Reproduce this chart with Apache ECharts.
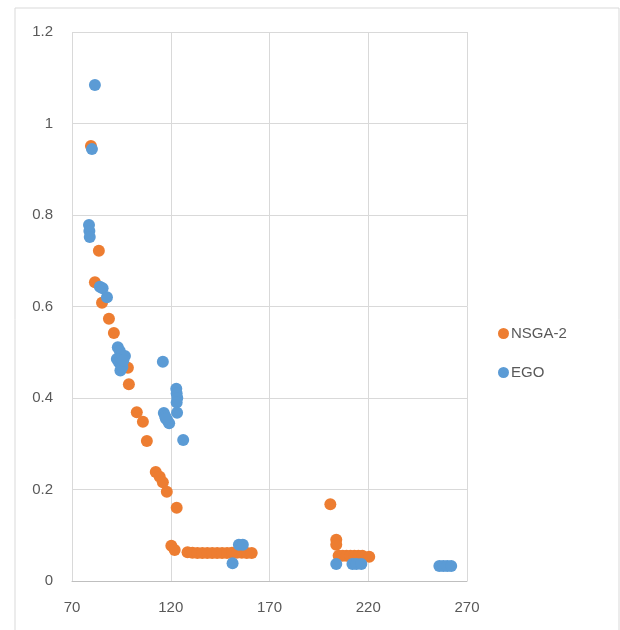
<!DOCTYPE html>
<html><head><meta charset="utf-8">
<script src="https://cdn.jsdelivr.net/npm/echarts@6/dist/echarts.min.js"></script>
<style>html,body{margin:0;padding:0;background:#fff}#c{width:620px;height:630px}</style>
</head><body><div id="c"></div>
<script>
const seriesNames = ['NSGA-2', 'EGO'];
const xTicks = [70, 120, 170, 220, 270];
const yTicks = [0, 0.2, 0.4, 0.6, 0.8, 1, 1.2];
const nsga2 = [
  [79.6,0.951],[83.6,0.722],[81.6,0.653],[85.2,0.608],[88.7,0.573],[91.2,0.542],
  [98.3,0.466],[98.8,0.43],[102.8,0.369],[105.9,0.348],[107.9,0.306],[112.4,0.238],
  [114.4,0.228],[116,0.216],[118,0.195],[123,0.16],[120.3,0.077],[122,0.068],
  [128.5,0.063],[131,0.062],[133.5,0.061],[136,0.061],[138.5,0.061],[141,0.061],
  [143.5,0.061],[146,0.061],[148.5,0.061],[151,0.062],[153.5,0.062],[156,0.062],
  [158.5,0.061],[161,0.061],
  [200.8,0.168],[203.8,0.09],[203.8,0.079],[205,0.055],[207,0.055],[209,0.055],
  [211,0.055],[213,0.055],[215,0.055],[217,0.055],[220.5,0.053]
];
const ego = [
  [81.6,1.084],[80.1,0.944],[78.6,0.778],[78.8,0.765],[79.0,0.752],[84.1,0.643],
  [85.5,0.64],[87.7,0.62],
  [93.2,0.511],[94.2,0.503],[96.8,0.492],[92.7,0.485],[93.8,0.478],[95.0,0.47],
  [94.5,0.46],[95.5,0.468],[96.0,0.482],
  [116.0,0.479],[116.5,0.367],[117.2,0.36],[118.2,0.352],[119.2,0.345],[117.5,0.355],
  [122.8,0.42],[123.0,0.41],[123.3,0.4],[123.0,0.39],[123.2,0.368],[126.3,0.308],
  [151.3,0.039],[154.5,0.079],[156.5,0.079],
  [203.8,0.037],[212,0.037],[214,0.037],[216.5,0.037],
  [256,0.033],[258,0.033],[260,0.033],[262,0.033]
];
const chart = echarts.init(document.getElementById('c'), null, {renderer:'canvas'});
const labelStyle = {color:'#595959', fontSize:15, fontFamily:'Liberation Sans, Arial, sans-serif'};
chart.setOption({
  animation:false,
  backgroundColor:'#fff',
  graphic:[{type:'rect', shape:{x:15, y:8, width:604, height:640}, style:{fill:'none', stroke:'#d9d9d9', lineWidth:1}, silent:true}],
  grid:{left:72, right:153, top:32, bottom:49, containLabel:false},
  legend:{
    data:seriesNames, orient:'vertical', left:493, top:321, itemGap:24,
    icon:'circle', itemWidth:11, itemHeight:11,
    textStyle:{color:'#595959', fontSize:15, fontFamily:'Liberation Sans, Arial, sans-serif', padding:[0,0,0,-3]}
  },
  xAxis:{
    type:'value', min:xTicks[0], max:xTicks[xTicks.length-1], interval:50,
    axisLine:{show:true, lineStyle:{color:'#bfbfbf'}}, axisTick:{show:false},
    splitLine:{show:true, lineStyle:{color:'#d9d9d9'}},
    axisLabel:Object.assign({margin:19}, labelStyle)
  },
  yAxis:{
    type:'value', min:yTicks[0], max:yTicks[yTicks.length-1], interval:0.2,
    axisLine:{show:false}, axisTick:{show:false},
    splitLine:{show:true, lineStyle:{color:'#d9d9d9'}},
    axisLabel:Object.assign({margin:19, formatter:v=>String(Math.round(v*10)/10)}, labelStyle)
  },
  series:[
    {name:seriesNames[0], type:'scatter', data:nsga2, symbolSize:12, itemStyle:{color:'#ED7D31', opacity:1}},
    {name:seriesNames[1], type:'scatter', data:ego, symbolSize:12, itemStyle:{color:'#5B9BD5', opacity:1}}
  ]
});
</script></body></html>
